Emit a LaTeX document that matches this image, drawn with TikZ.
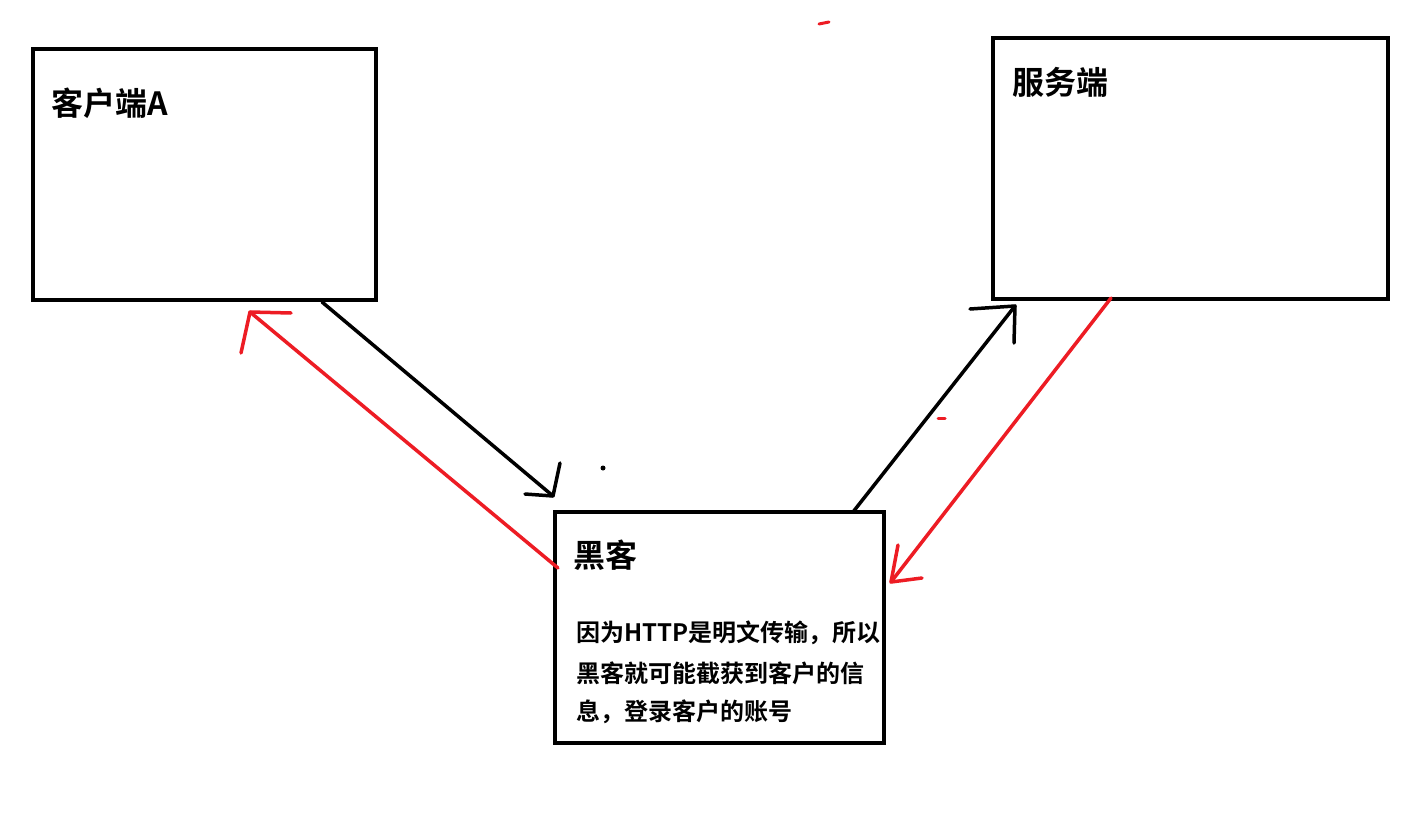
\documentclass[tikz,border=0pt]{standalone}
\usepackage{fontspec}
\newfontfamily\cjk{Noto Sans CJK SC Bold}
\definecolor{pred}{HTML}{ED1C24}
\begin{document}
\begin{tikzpicture}[x=1pt,y=-1pt,
  box/.style={draw=black,line width=4pt,anchor=north west,inner sep=0pt,outer sep=0pt},
  title/.style={anchor=west,inner sep=0pt,font=\cjk\fontsize{32}{36}\selectfont},
  body/.style={anchor=west,inner sep=0pt,font=\cjk\fontsize{24}{28}\selectfont},
  blk/.style={draw=black,line width=3.5pt,line cap=round,line join=round},
  rd/.style={draw=pred,line width=3.5pt,line cap=round,line join=round}]
\useasboundingbox[fill=white] (0,0) rectangle (1414,838);
% boxes
\node[box,minimum width=343pt,minimum height=251pt] (A) at (33,49) {};
\node[box,minimum width=395pt,minimum height=261pt] (S) at (993,38) {};
\node[box,minimum width=329pt,minimum height=231pt] (H) at (555,512) {};
% texts
\node[title] (tA) at (51,103) {客户端A};
\node[title] (tS) at (1012,82) {服务端};
\node[title] (tH) at (573,555) {黑客};
\node[body] (b1) at (576,633) {因为HTTP是明文传输，所以};
\node[body] (b2) at (576,673) {黑客就可能截获到客户的信};
\node[body] (b3) at (576,712) {息，登录客户的账号};
% connector end points
\coordinate (a1s) at (322,302);
\coordinate (a1t) at (553,496);
\coordinate (a2s) at (853,512);
\coordinate (a2t) at (1015,306);
\coordinate (r1s) at (558,568);
\coordinate (r1t) at (250,312);
\coordinate (r2s) at (1111,298);
\coordinate (r2t) at (891,582);
% black arrows
\draw[blk] (a1s) -- (a1t);
\draw[blk] (525,494) -- (a1t) -- (560,463);
\draw[blk] (a2s) -- (a2t);
\draw[blk] (970,309) -- (a2t) -- (1014,343);
% red arrows
\draw[rd] (r1s) -- (r1t);
\draw[rd] (291,313) -- (r1t) -- (241,353);
\draw[rd] (r2s) -- (r2t);
\draw[rd] (922,578) -- (r2t) -- (898,545);
% stray marks
\draw[rd,line width=3pt] (819,24) -- (829,22);
\draw[rd,line width=3pt] (938,418) -- (945,418);
\fill[black] (603,468) circle (2.5);
\end{tikzpicture}
\end{document}
